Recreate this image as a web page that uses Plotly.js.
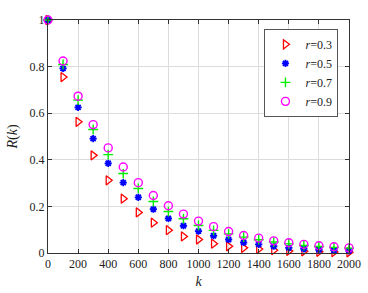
<!DOCTYPE html>
<html><head><meta charset="utf-8">
<script src="https://cdn.plot.ly/plotly-3.0.1.min.js"></script>
<style>html,body{margin:0;padding:0;background:#fff}#plot{width:368px;height:293px}</style>
</head><body><div id="plot"></div>
<script>
const k = [0,100,200,300,400,500,600,700,800,900,1000,1100,1200,1300,1400,1500,1600,1700,1800,1900,2000];
const r03 = [1,0.755,0.563,0.419,0.312,0.233,0.174,0.130,0.098,0.071,0.058,0.040,0.029,0.022,0.017,0.012,0.009,0.007,0.005,0.004,0.003];
const r05 = [1,0.792,0.625,0.491,0.385,0.302,0.239,0.188,0.148,0.117,0.094,0.074,0.058,0.045,0.037,0.029,0.022,0.018,0.014,0.011,0.009];
const r07 = [1,0.809,0.656,0.530,0.422,0.341,0.277,0.221,0.178,0.147,0.118,0.097,0.082,0.068,0.057,0.047,0.039,0.032,0.028,0.024,0.021];
const r09 = [1,0.824,0.673,0.551,0.451,0.369,0.302,0.247,0.203,0.167,0.137,0.113,0.092,0.075,0.064,0.052,0.044,0.037,0.031,0.027,0.022];
const names = ['<i>r</i>=0.3','<i>r</i>=0.5','<i>r</i>=0.7','<i>r</i>=0.9'];
const xTicks = [0,200,400,600,800,1000,1200,1400,1600,1800,2000];
const yTicks = [0,0.2,0.4,0.6,0.8,1];
const yTickText = ['0','0.2','0.4','0.6','0.8','1'];

const styles = [
  {symbol:'triangle-right-open', color:'#ff0000', size:8, lw:1.3},
  {symbol:'asterisk-open', color:'#0000ff', size:6, lw:1.8},
  {symbol:'cross-thin-open', color:'#00ee00', size:7, lw:1.4},
  {symbol:'circle-open', color:'#ff00ff', size:8, lw:1.4}
];
const series = [r03, r05, r07, r09];
const data = series.map((s,i)=>({
  x:k, y:s, type:'scatter', mode:'markers', name:names[i],
  marker:{symbol:styles[i].symbol, size:styles[i].size, color:styles[i].color,
          line:{color:styles[i].color, width:styles[i].lw}},
  cliponaxis:false
}));
const fam = '"Liberation Serif", "Times New Roman", serif';
const layout = {
  width:368, height:293,
  margin:{l:48, r:19, t:20, b:40},
  paper_bgcolor:'#fff', plot_bgcolor:'#fff',
  font:{family:fam, size:12, color:'#222'},
  showlegend:true,
  legend:{x:0.965, xanchor:'right', y:0.962, yanchor:'top', bgcolor:'#fff',
          bordercolor:'#555', borderwidth:1, font:{family:fam, size:12, color:'#222'},
          itemwidth:30, tracegroupgap:0},
  xaxis:{range:[0,2000], tickvals:xTicks, ticks:'inside', ticklen:4, tickcolor:'#333',
         showgrid:true, gridcolor:'#dcdcdc', gridwidth:1, zeroline:false,
         showline:true, linecolor:'#333', linewidth:1, mirror:'ticks',
         title:{text:'<i>k</i>', font:{family:fam, size:14}, standoff:5},
         tickfont:{family:fam, size:12, color:'#222'}},
  yaxis:{range:[0,1], tickvals:yTicks, ticktext:yTickText, ticks:'inside', ticklen:4, tickcolor:'#333',
         showgrid:true, gridcolor:'#dcdcdc', gridwidth:1, zeroline:false,
         showline:true, linecolor:'#333', linewidth:1, mirror:'ticks',
         title:{text:'<i>R</i>(<i>k</i>)', font:{family:fam, size:14}, standoff:8},
         tickfont:{family:fam, size:12, color:'#222'}}
};
Plotly.newPlot('plot', data, layout, {displayModeBar:false, staticPlot:true});
</script></body></html>
